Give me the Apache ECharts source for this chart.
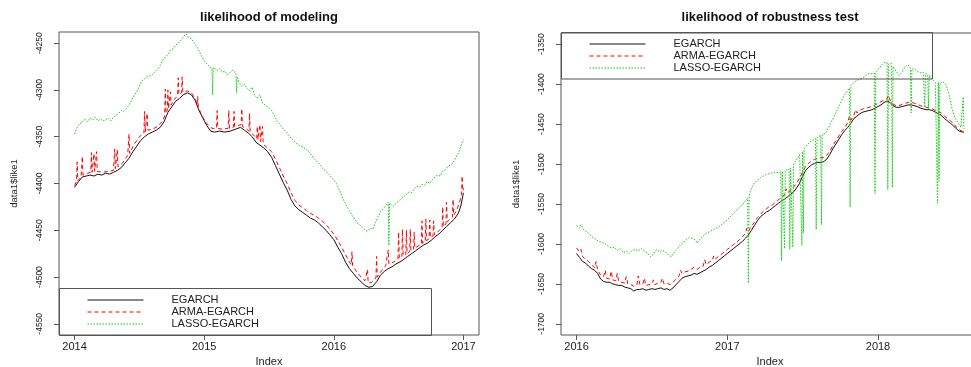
<!DOCTYPE html>
<html>
<head>
<meta charset="utf-8">
<title>likelihood</title>
<script src="https://cdn.jsdelivr.net/npm/echarts@6/dist/echarts.min.js"></script>
<style>
  html, body { margin: 0; padding: 0; background: #fff; }
  #chart { width: 971px; height: 367px; }
</style>
</head>
<body>
<div id="chart"></div>
<script>
// values, [year, log-likelihood]
const egarchModel = [
  [2014.00,-4404],[2014.03,-4398],[2014.06,-4393],[2014.09,-4392],[2014.12,-4391],[2014.15,-4392],[2014.18,-4390],[2014.21,-4391],
  [2014.24,-4389],[2014.27,-4390],[2014.30,-4388],[2014.33,-4386],[2014.36,-4383],[2014.39,-4378],[2014.42,-4373],[2014.45,-4366],
  [2014.48,-4360],[2014.51,-4354],[2014.54,-4350],[2014.57,-4347],[2014.60,-4345],[2014.63,-4343],[2014.66,-4340],[2014.69,-4334],
  [2014.72,-4324],[2014.75,-4318],[2014.78,-4312],[2014.81,-4309],[2014.84,-4305],[2014.87,-4303],[2014.90,-4305],[2014.93,-4311],
  [2014.96,-4322],[2014.99,-4330],[2015.02,-4338],[2015.05,-4344],[2015.08,-4345],[2015.12,-4344],[2015.16,-4345],[2015.20,-4344],
  [2015.24,-4342],[2015.28,-4340],[2015.31,-4343],[2015.34,-4346],[2015.37,-4350],[2015.40,-4356],[2015.43,-4359],[2015.46,-4362],
  [2015.49,-4366],[2015.52,-4372],[2015.55,-4381],[2015.58,-4390],[2015.61,-4399],[2015.64,-4407],[2015.67,-4417],[2015.70,-4424],
  [2015.73,-4428],[2015.76,-4431],[2015.79,-4434],[2015.82,-4437],[2015.85,-4439],[2015.88,-4442],[2015.91,-4446],[2015.94,-4450],
  [2015.97,-4455],[2016.00,-4460],[2016.03,-4468],[2016.06,-4475],[2016.09,-4484],[2016.12,-4491],[2016.15,-4496],[2016.18,-4501],
  [2016.21,-4505],[2016.24,-4509],[2016.27,-4511],[2016.30,-4510],[2016.33,-4505],[2016.36,-4498],[2016.39,-4494],[2016.42,-4491],
  [2016.45,-4489],[2016.48,-4486],[2016.51,-4484],[2016.54,-4481],[2016.57,-4478],[2016.60,-4475],[2016.63,-4472],[2016.66,-4469],
  [2016.69,-4466],[2016.72,-4464],[2016.75,-4461],[2016.78,-4457],[2016.81,-4454],[2016.84,-4450],[2016.87,-4446],[2016.90,-4442],
  [2016.93,-4438],[2016.96,-4432],[2016.98,-4424],[2017.00,-4410]
];
const armaModel = [
  [2014.00,-4402],[2014.015,-4398],[2014.02,-4377],[2014.025,-4397],[2014.05,-4393],[2014.06,-4371],[2014.065,-4391],
  [2014.10,-4389],[2014.125,-4388],[2014.13,-4367],[2014.135,-4388],[2014.145,-4387],[2014.15,-4368],[2014.155,-4387],
  [2014.165,-4388],[2014.17,-4366],[2014.175,-4387],[2014.22,-4388],[2014.26,-4387],[2014.30,-4386],[2014.31,-4363],
  [2014.315,-4384],[2014.325,-4383],[2014.33,-4364],[2014.335,-4382],[2014.37,-4378],[2014.41,-4370],[2014.42,-4347],
  [2014.425,-4368],[2014.46,-4358],[2014.50,-4350],[2014.535,-4346],[2014.54,-4323],[2014.545,-4345],[2014.555,-4344],
  [2014.56,-4325],[2014.565,-4343],[2014.60,-4342],[2014.64,-4339],[2014.68,-4333],[2014.695,-4328],[2014.70,-4299],
  [2014.705,-4325],[2014.715,-4322],[2014.72,-4300],[2014.725,-4320],[2014.735,-4318],[2014.74,-4302],[2014.745,-4316],
  [2014.77,-4310],[2014.795,-4306],[2014.80,-4287],[2014.805,-4305],[2014.825,-4303],[2014.83,-4286],[2014.835,-4302],
  [2014.87,-4301],[2014.90,-4303],[2014.93,-4309],[2014.945,-4316],[2014.95,-4307],[2014.955,-4318],[2014.98,-4327],
  [2015.02,-4336],[2015.06,-4341],[2015.095,-4341],[2015.10,-4322],[2015.105,-4341],[2015.14,-4342],[2015.185,-4341],
  [2015.19,-4322],[2015.195,-4341],[2015.225,-4340],[2015.23,-4323],[2015.235,-4339],[2015.26,-4338],[2015.285,-4337],
  [2015.29,-4320],[2015.295,-4339],[2015.32,-4341],[2015.345,-4344],[2015.35,-4325],[2015.355,-4345],[2015.38,-4348],
  [2015.405,-4352],[2015.41,-4339],[2015.415,-4353],[2015.425,-4354],[2015.43,-4337],[2015.435,-4355],[2015.445,-4357],
  [2015.45,-4339],[2015.455,-4358],[2015.48,-4361],[2015.52,-4366],[2015.55,-4374],[2015.58,-4383],[2015.61,-4392],
  [2015.64,-4400],[2015.67,-4410],[2015.70,-4418],[2015.73,-4423],[2015.76,-4426],[2015.79,-4429],[2015.82,-4432],
  [2015.85,-4434],[2015.88,-4437],[2015.91,-4440],[2015.94,-4444],[2015.97,-4449],[2016.00,-4454],[2016.03,-4461],
  [2016.06,-4468],[2016.09,-4476],[2016.12,-4484],[2016.135,-4487],[2016.14,-4473],[2016.145,-4488],[2016.18,-4495],
  [2016.21,-4500],[2016.24,-4504],[2016.255,-4506],[2016.26,-4492],[2016.265,-4506],[2016.29,-4506],[2016.325,-4501],
  [2016.33,-4478],[2016.335,-4500],[2016.37,-4493],[2016.40,-4488],[2016.415,-4486],[2016.42,-4471],[2016.425,-4486],
  [2016.46,-4484],[2016.495,-4481],[2016.50,-4452],[2016.505,-4480],[2016.525,-4478],[2016.53,-4449],[2016.535,-4477],
  [2016.555,-4476],[2016.56,-4450],[2016.565,-4475],[2016.585,-4473],[2016.59,-4449],[2016.595,-4472],[2016.615,-4470],
  [2016.62,-4452],[2016.625,-4469],[2016.65,-4467],[2016.675,-4465],[2016.68,-4440],[2016.685,-4464],[2016.705,-4462],
  [2016.71,-4438],[2016.715,-4461],[2016.735,-4459],[2016.74,-4439],[2016.745,-4458],[2016.765,-4456],[2016.77,-4440],
  [2016.775,-4455],[2016.80,-4452],[2016.835,-4447],[2016.84,-4425],[2016.845,-4446],[2016.865,-4443],[2016.87,-4420],
  [2016.875,-4441],[2016.915,-4436],[2016.92,-4417],[2016.925,-4434],[2016.95,-4428],[2016.97,-4420],[2016.985,-4412],
  [2016.99,-4392],[2016.995,-4408],[2017.00,-4405]
];
const lassoModel = [
  [2014.00,-4347],[2014.02,-4340],[2014.04,-4336],[2014.06,-4334],[2014.08,-4331],[2014.10,-4334],[2014.12,-4330],[2014.14,-4332],
  [2014.16,-4329],[2014.18,-4333],[2014.20,-4331],[2014.22,-4333],[2014.24,-4332],[2014.26,-4330],[2014.28,-4333],[2014.30,-4329],
  [2014.32,-4327],[2014.34,-4325],[2014.36,-4322],[2014.38,-4323],[2014.40,-4320],[2014.42,-4316],[2014.44,-4311],[2014.46,-4306],
  [2014.48,-4302],[2014.50,-4296],[2014.52,-4290],[2014.54,-4288],[2014.56,-4286],[2014.58,-4285],[2014.60,-4284],[2014.62,-4281],
  [2014.64,-4278],[2014.66,-4274],[2014.68,-4268],[2014.70,-4265],[2014.72,-4262],[2014.74,-4257],[2014.76,-4256],[2014.78,-4252],
  [2014.80,-4250],[2014.82,-4247],[2014.84,-4243],[2014.86,-4240],[2014.88,-4244],[2014.90,-4245],[2014.92,-4249],[2014.94,-4253],
  [2014.96,-4258],[2014.98,-4264],[2015.00,-4269],[2015.02,-4272],[2015.04,-4275],[2015.06,-4277],[2015.065,-4305],[2015.07,-4276],
  [2015.08,-4276],[2015.10,-4279],[2015.12,-4277],[2015.14,-4281],[2015.16,-4280],[2015.18,-4284],[2015.20,-4281],[2015.22,-4279],
  [2015.245,-4282],[2015.25,-4303],[2015.255,-4286],[2015.27,-4292],[2015.29,-4296],[2015.31,-4294],[2015.33,-4298],[2015.35,-4301],
  [2015.37,-4297],[2015.39,-4306],[2015.41,-4309],[2015.43,-4305],[2015.45,-4314],[2015.47,-4316],[2015.50,-4319],[2015.52,-4322],
  [2015.54,-4327],[2015.56,-4333],[2015.58,-4336],[2015.60,-4340],[2015.62,-4343],[2015.64,-4346],[2015.66,-4350],[2015.68,-4353],
  [2015.70,-4355],[2015.72,-4358],[2015.74,-4360],[2015.76,-4361],[2015.78,-4363],[2015.80,-4365],[2015.82,-4368],[2015.84,-4372],
  [2015.86,-4375],[2015.88,-4378],[2015.90,-4381],[2015.92,-4385],[2015.94,-4387],[2015.96,-4390],[2015.98,-4393],[2016.00,-4396],
  [2016.02,-4400],[2016.04,-4406],[2016.06,-4413],[2016.08,-4419],[2016.10,-4424],[2016.12,-4429],[2016.14,-4434],[2016.16,-4438],
  [2016.18,-4442],[2016.20,-4444],[2016.22,-4447],[2016.24,-4450],[2016.26,-4451],[2016.28,-4448],[2016.30,-4449],[2016.32,-4442],
  [2016.34,-4436],[2016.36,-4430],[2016.38,-4427],[2016.40,-4424],[2016.42,-4420],[2016.425,-4466],[2016.43,-4421],[2016.44,-4422],
  [2016.46,-4424],[2016.48,-4421],[2016.50,-4419],[2016.52,-4416],[2016.54,-4414],[2016.56,-4412],[2016.58,-4409],[2016.60,-4410],
  [2016.62,-4406],[2016.64,-4403],[2016.66,-4404],[2016.68,-4401],[2016.70,-4402],[2016.72,-4398],[2016.74,-4400],[2016.76,-4396],
  [2016.78,-4393],[2016.80,-4391],[2016.82,-4392],[2016.84,-4387],[2016.86,-4385],[2016.88,-4382],[2016.90,-4380],[2016.92,-4378],
  [2016.94,-4373],[2016.96,-4368],[2016.98,-4360],[2017.00,-4353]
];
const egarchRobust = [
  [2016.00,-1612],[2016.02,-1617],[2016.04,-1622],[2016.06,-1624],[2016.08,-1628],[2016.10,-1631],[2016.12,-1633],[2016.14,-1637],
  [2016.16,-1644],[2016.18,-1647],[2016.20,-1648],[2016.22,-1648],[2016.24,-1650],[2016.26,-1651],[2016.28,-1652],[2016.30,-1652],
  [2016.32,-1654],[2016.34,-1655],[2016.36,-1656],[2016.38,-1659],[2016.40,-1657],[2016.42,-1657],[2016.44,-1656],[2016.46,-1658],
  [2016.48,-1657],[2016.50,-1656],[2016.52,-1657],[2016.54,-1656],[2016.56,-1655],[2016.58,-1657],[2016.60,-1656],[2016.62,-1658],
  [2016.64,-1655],[2016.66,-1651],[2016.68,-1647],[2016.70,-1643],[2016.72,-1641],[2016.74,-1640],[2016.76,-1639],[2016.78,-1637],
  [2016.80,-1638],[2016.82,-1636],[2016.84,-1634],[2016.86,-1632],[2016.88,-1629],[2016.90,-1627],[2016.92,-1624],[2016.94,-1621],
  [2016.96,-1618],[2016.98,-1615],[2017.00,-1612],[2017.02,-1609],[2017.04,-1606],[2017.06,-1603],[2017.08,-1600],[2017.10,-1597],
  [2017.12,-1593],[2017.14,-1589],[2017.16,-1583],[2017.18,-1577],[2017.20,-1571],[2017.22,-1566],[2017.24,-1563],[2017.26,-1560],
  [2017.28,-1558],[2017.30,-1555],[2017.32,-1552],[2017.34,-1549],[2017.36,-1546],[2017.38,-1544],[2017.40,-1541],[2017.42,-1538],
  [2017.44,-1535],[2017.46,-1530],[2017.48,-1524],[2017.50,-1515],[2017.52,-1508],[2017.54,-1504],[2017.56,-1501],[2017.58,-1499],
  [2017.60,-1498],[2017.62,-1498],[2017.64,-1497],[2017.66,-1494],[2017.68,-1488],[2017.70,-1481],[2017.72,-1475],[2017.74,-1469],
  [2017.76,-1463],[2017.78,-1458],[2017.80,-1454],[2017.82,-1449],[2017.84,-1443],[2017.86,-1440],[2017.88,-1437],[2017.90,-1435],
  [2017.92,-1434],[2017.94,-1433],[2017.96,-1432],[2017.98,-1430],[2018.00,-1428],[2018.02,-1426],[2018.04,-1423],[2018.06,-1421],
  [2018.08,-1423],[2018.10,-1427],[2018.12,-1429],[2018.14,-1429],[2018.16,-1428],[2018.18,-1427],[2018.20,-1426],[2018.22,-1426],
  [2018.24,-1427],[2018.26,-1428],[2018.28,-1430],[2018.30,-1431],[2018.32,-1432],[2018.34,-1432],[2018.36,-1433],[2018.38,-1435],
  [2018.40,-1437],[2018.42,-1439],[2018.44,-1443],[2018.46,-1446],[2018.48,-1449],[2018.50,-1452],[2018.52,-1456],[2018.54,-1459],
  [2018.56,-1460],[2018.57,-1460]
];
const armaRobust = [
  [2016.00,-1605],[2016.01,-1603],[2016.02,-1610],[2016.03,-1607],[2016.04,-1616],[2016.06,-1619],[2016.08,-1622],[2016.10,-1626],
  [2016.12,-1630],[2016.13,-1622],[2016.14,-1633],[2016.16,-1639],[2016.18,-1641],[2016.19,-1633],[2016.20,-1643],[2016.22,-1644],
  [2016.23,-1634],[2016.24,-1645],[2016.26,-1646],[2016.27,-1637],[2016.28,-1647],[2016.30,-1648],[2016.32,-1649],[2016.33,-1641],
  [2016.34,-1650],[2016.36,-1651],[2016.38,-1653],[2016.40,-1652],[2016.41,-1640],[2016.42,-1651],[2016.44,-1650],[2016.45,-1643],
  [2016.46,-1652],[2016.48,-1651],[2016.50,-1650],[2016.51,-1645],[2016.52,-1651],[2016.54,-1649],[2016.56,-1648],[2016.57,-1643],
  [2016.58,-1650],[2016.60,-1649],[2016.62,-1651],[2016.64,-1648],[2016.66,-1644],[2016.68,-1640],[2016.69,-1633],[2016.70,-1637],
  [2016.72,-1635],[2016.74,-1634],[2016.76,-1632],[2016.78,-1629],[2016.80,-1632],[2016.82,-1629],[2016.84,-1628],[2016.85,-1620],
  [2016.86,-1626],[2016.88,-1623],[2016.90,-1621],[2016.91,-1615],[2016.92,-1619],[2016.94,-1616],[2016.96,-1613],[2016.98,-1610],
  [2017.00,-1607],[2017.02,-1604],[2017.04,-1601],[2017.06,-1598],[2017.08,-1595],[2017.10,-1591],[2017.12,-1587],[2017.13,-1580],
  [2017.14,-1584],[2017.16,-1578],[2017.18,-1573],[2017.20,-1567],[2017.22,-1563],[2017.24,-1559],[2017.26,-1556],[2017.28,-1553],
  [2017.30,-1551],[2017.32,-1548],[2017.34,-1545],[2017.36,-1541],[2017.38,-1539],[2017.39,-1531],[2017.40,-1536],[2017.42,-1533],
  [2017.44,-1529],[2017.46,-1524],[2017.48,-1518],[2017.50,-1510],[2017.52,-1503],[2017.54,-1499],[2017.56,-1496],[2017.58,-1494],
  [2017.60,-1493],[2017.62,-1492],[2017.64,-1492],[2017.66,-1489],[2017.68,-1484],[2017.70,-1477],[2017.72,-1471],[2017.74,-1465],
  [2017.76,-1459],[2017.78,-1454],[2017.80,-1448],[2017.81,-1440],[2017.82,-1445],[2017.84,-1439],[2017.85,-1432],[2017.86,-1436],
  [2017.88,-1433],[2017.90,-1431],[2017.92,-1430],[2017.94,-1429],[2017.96,-1428],[2017.98,-1426],[2018.00,-1424],[2018.02,-1422],
  [2018.04,-1420],[2018.06,-1418],[2018.07,-1414],[2018.08,-1420],[2018.10,-1425],[2018.12,-1427],[2018.14,-1427],[2018.16,-1425],
  [2018.18,-1424],[2018.20,-1423],[2018.22,-1422],[2018.24,-1424],[2018.26,-1425],[2018.28,-1427],[2018.30,-1428],[2018.32,-1429],
  [2018.34,-1430],[2018.36,-1431],[2018.38,-1433],[2018.40,-1435],[2018.42,-1436],[2018.44,-1440],[2018.46,-1443],[2018.48,-1446],
  [2018.50,-1449],[2018.52,-1454],[2018.54,-1457],[2018.56,-1459],[2018.57,-1459]
];
const lassoRobust = [
  [2016.00,-1577],[2016.02,-1580],[2016.03,-1576],[2016.05,-1583],[2016.07,-1585],[2016.09,-1589],[2016.11,-1592],[2016.13,-1595],
  [2016.15,-1597],[2016.17,-1598],[2016.19,-1600],[2016.21,-1603],[2016.23,-1605],[2016.25,-1604],[2016.27,-1608],[2016.29,-1606],
  [2016.31,-1611],[2016.33,-1609],[2016.35,-1612],[2016.37,-1608],[2016.39,-1607],[2016.41,-1609],[2016.43,-1606],[2016.45,-1609],
  [2016.47,-1611],[2016.49,-1616],[2016.51,-1613],[2016.53,-1607],[2016.55,-1610],[2016.57,-1608],[2016.59,-1610],[2016.61,-1614],
  [2016.63,-1616],[2016.65,-1610],[2016.67,-1606],[2016.69,-1601],[2016.71,-1598],[2016.73,-1594],[2016.75,-1592],[2016.77,-1593],
  [2016.79,-1595],[2016.80,-1599],[2016.82,-1594],[2016.84,-1590],[2016.86,-1587],[2016.88,-1585],[2016.90,-1583],[2016.92,-1581],
  [2016.94,-1579],[2016.96,-1576],[2016.98,-1573],[2017.00,-1570],[2017.02,-1566],[2017.04,-1562],[2017.06,-1558],[2017.08,-1555],
  [2017.10,-1551],[2017.12,-1546],[2017.135,-1543],[2017.14,-1649],[2017.145,-1540],[2017.16,-1530],[2017.18,-1524],[2017.20,-1520],
  [2017.22,-1517],[2017.24,-1515],[2017.26,-1513],[2017.28,-1512],[2017.30,-1511],[2017.32,-1510],[2017.34,-1511],[2017.355,-1510],
  [2017.36,-1621],[2017.365,-1509],[2017.375,-1509],[2017.38,-1606],[2017.385,-1508],[2017.41,-1506],[2017.415,-1607],[2017.42,-1505],
  [2017.43,-1503],[2017.435,-1604],[2017.44,-1500],[2017.46,-1494],[2017.48,-1488],[2017.49,-1486],[2017.495,-1602],[2017.50,-1484],
  [2017.505,-1586],[2017.51,-1481],[2017.53,-1476],[2017.55,-1472],[2017.57,-1470],[2017.585,-1468],[2017.59,-1582],[2017.595,-1467],
  [2017.62,-1464],[2017.625,-1576],[2017.63,-1463],[2017.65,-1462],[2017.67,-1455],[2017.69,-1447],[2017.71,-1440],[2017.73,-1432],
  [2017.75,-1424],[2017.77,-1416],[2017.79,-1410],[2017.81,-1405],[2017.815,-1554],[2017.82,-1402],[2017.84,-1398],[2017.86,-1395],
  [2017.88,-1394],[2017.90,-1392],[2017.92,-1389],[2017.94,-1387],[2017.96,-1387],[2017.975,-1386],[2017.98,-1537],[2017.985,-1385],
  [2018.00,-1382],[2018.02,-1377],[2018.04,-1373],[2018.06,-1373],[2018.065,-1532],[2018.07,-1375],[2018.09,-1374],[2018.095,-1529],
  [2018.10,-1378],[2018.12,-1384],[2018.14,-1389],[2018.16,-1385],[2018.18,-1378],[2018.20,-1376],[2018.215,-1380],[2018.22,-1436],
  [2018.225,-1381],[2018.24,-1381],[2018.26,-1384],[2018.28,-1386],[2018.30,-1385],[2018.31,-1429],[2018.315,-1387],[2018.33,-1388],
  [2018.335,-1430],[2018.34,-1389],[2018.36,-1394],[2018.38,-1398],[2018.39,-1400],[2018.395,-1549],[2018.40,-1398],[2018.405,-1521],
  [2018.41,-1399],[2018.43,-1397],[2018.45,-1400],[2018.47,-1412],[2018.49,-1430],[2018.51,-1442],[2018.53,-1448],[2018.55,-1454],
  [2018.56,-1456],[2018.565,-1416],[2018.57,-1456]
];

const seriesNames = ['EGARCH', 'ARMA-EGARCH', 'LASSO-EGARCH'];
const yearTicksModel = [2014, 2015, 2016, 2017];
const yearTicksRobust = [2016, 2017, 2018];
const likeTicksModel = [-4550, -4500, -4450, -4400, -4350, -4300, -4250];
const likeTicksRobust = [-1700, -1650, -1600, -1550, -1500, -1450, -1400, -1350];

const font = '"Liberation Sans", Arial, sans-serif';
const boxColor = '#555';
const lineStyles = [
  { color: '#111', width: 1, type: 'solid' },
  { color: '#ff0000', width: 1, type: [4, 3] },
  { color: '#11cc11', width: 1, type: [1.5, 1.5] }
];

function makeXAxis(grid, min, max, ticks) {
  return {
    type: 'value', gridIndex: grid, min: min, max: max,
    name: 'Index', nameLocation: 'middle', nameGap: 21,
    nameTextStyle: { fontFamily: font, fontSize: 11, color: '#222' },
    axisLine: { show: false },
    axisTick: { show: true, length: 5, customValues: ticks, lineStyle: { color: boxColor } },
    axisLabel: {
      customValues: ticks, margin: 6, fontFamily: font, fontSize: 11, color: '#222',
      formatter: (v) => String(v)
    },
    splitLine: { show: false }
  };
}

function makeYAxis(grid, min, max, ticks) {
  return {
    type: 'value', gridIndex: grid, min: min, max: max,
    name: 'data1$like1', nameLocation: 'middle', nameGap: 40, nameRotate: 90,
    nameTextStyle: { fontFamily: font, fontSize: 9.5, color: '#222' },
    axisLine: { show: false },
    axisTick: { show: true, length: 5, customValues: ticks, lineStyle: { color: boxColor } },
    axisLabel: {
      customValues: ticks, rotate: 90, margin: 15, color: '#222',
      fontFamily: '"Liberation Sans Narrow", "Liberation Sans", Arial, sans-serif', fontSize: 8.5,
      formatter: (v) => String(v)
    },
    splitLine: { show: false }
  };
}

function makeLines(grid, list) {
  return list.map((d, i) => ({
    name: seriesNames[i],
    type: 'line',
    xAxisIndex: grid,
    yAxisIndex: grid,
    data: d,
    symbol: 'none',
    showSymbol: false,
    color: lineStyles[i].color,
    lineStyle: lineStyles[i],
    z: 2 + i
  }));
}

function makeLegend(left, top) {
  return {
    left: left, top: top, orient: 'vertical', padding: 0, itemGap: 0,
    itemWidth: 56, itemHeight: 12, selectedMode: false,
    data: seriesNames,
    itemStyle: { opacity: 0 },
    lineStyle: { width: 1 },
    textStyle: { fontFamily: font, fontSize: 11, color: '#222', padding: [0, 0, 0, 23], lineHeight: 12 }
  };
}

const chart = echarts.init(document.getElementById('chart'));
chart.setOption({
  animation: false,
  backgroundColor: '#fff',
  title: [
    { text: 'likelihood of modeling', left: 269, top: 11, textAlign: 'center', padding: 0,
      textStyle: { fontFamily: font, fontSize: 13, fontWeight: 'bold', color: '#111' } },
    { text: 'likelihood of robustness test', left: 770, top: 11, textAlign: 'center', padding: 0,
      textStyle: { fontFamily: font, fontSize: 13, fontWeight: 'bold', color: '#111' } }
  ],
  grid: [
    { left: 59, top: 32, width: 420, height: 303, outerBoundsMode: 'none',
      show: true, borderColor: boxColor, borderWidth: 1, backgroundColor: '#fff' },
    { left: 561, top: 33, width: 418, height: 302, outerBoundsMode: 'none',
      show: true, borderColor: boxColor, borderWidth: 1, backgroundColor: '#fff' }
  ],
  xAxis: [
    makeXAxis(0, 2013.88, 2017.12, yearTicksModel),
    makeXAxis(1, 2015.897, 2018.67, yearTicksRobust)
  ],
  yAxis: [
    makeYAxis(0, -4562, -4238, likeTicksModel),
    makeYAxis(1, -1714, -1336, likeTicksRobust)
  ],
  legend: [makeLegend(87, 294), makeLegend(589, 38)],
  series: makeLines(0, [egarchModel, armaModel, lassoModel])
    .concat(makeLines(1, [egarchRobust, armaRobust, lassoRobust])),
  graphic: [
    { type: 'rect', z: 100, shape: { x: 59.5, y: 288.5, width: 372, height: 47 },
      style: { fill: 'none', stroke: boxColor, lineWidth: 1 } },
    { type: 'rect', z: 100, shape: { x: 561.5, y: 32.5, width: 371, height: 46.5 },
      style: { fill: 'none', stroke: boxColor, lineWidth: 1 } }
  ]
});
</script>
</body>
</html>
